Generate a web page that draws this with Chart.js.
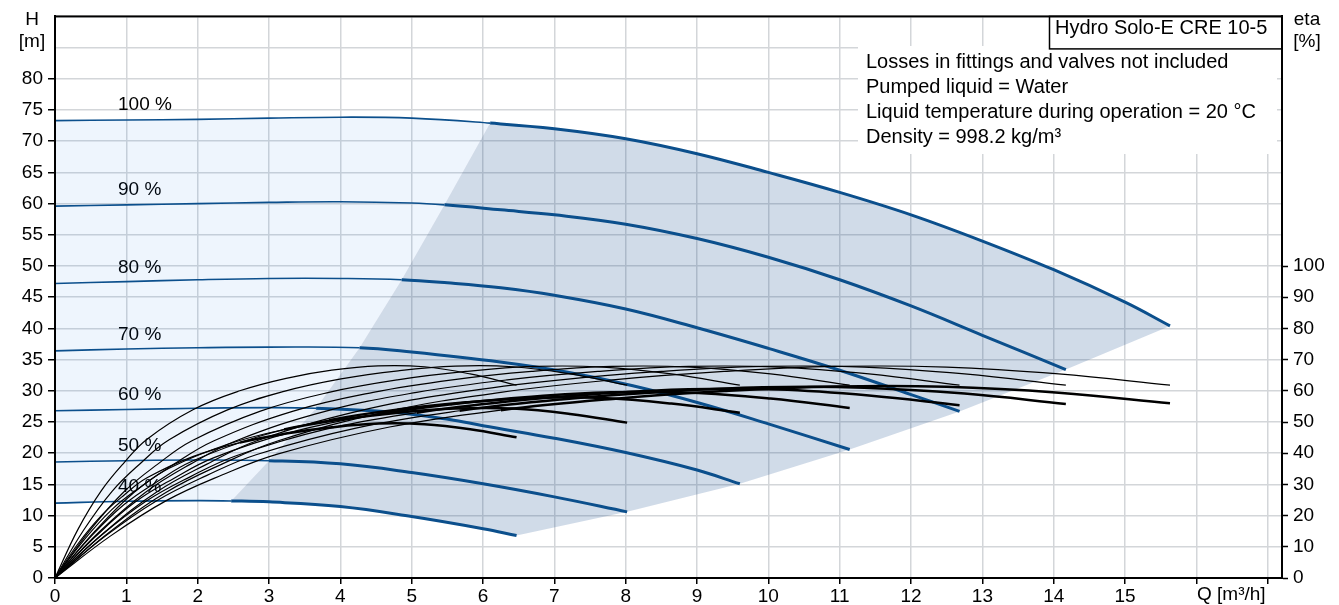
<!DOCTYPE html>
<html>
<head>
<meta charset="utf-8">
<title>Hydro Solo-E CRE 10-5</title>
<script src="https://cdn.jsdelivr.net/npm/chart.js@4.4.0/dist/chart.umd.min.js"></script>
<style>
  html, body { margin: 0; padding: 0; background: #fff; }
  #wrap { position: relative; width: 1339px; height: 605px; }
</style>
</head>
<body>
<div id="wrap"><canvas id="myChart"></canvas></div>
<script>
// speed curves, 40 % .. 100 %  (Q in m3/h, H in m)
const speedLabels = ['40 %', '50 %', '60 %', '70 %', '80 %', '90 %', '100 %']

const q40 = [0, 1, 2, 2.47, 3, 4, 5, 6, 6.47]
const h40 = [12.0, 12.3, 12.4, 12.35, 12.2, 11.45, 9.85, 7.9, 6.8]
const q50 = [0, 1, 2, 3, 4, 5, 6, 7, 8.02]
const h50 = [18.6, 18.8, 18.9, 18.8, 18.3, 16.9, 15.1, 13.0, 10.6]
const q60 = [0, 1, 2, 3, 3.66, 4.69, 5.53, 6, 7, 8, 9, 9.6]
const h60 = [26.8, 27.0, 27.2, 27.3, 27.2, 26.6, 25.4, 24.4, 22.4, 20.1, 17.3, 15.1]
const q70 = [0, 1, 2, 3, 4.27, 5, 6.24, 7.17, 8.1, 9.04, 10, 11.14]
const h70 = [36.4, 36.7, 36.9, 37.0, 36.9, 36.2, 34.6, 33.0, 30.8, 28.0, 24.7, 20.6]
const q80 = [0, 1, 2, 3, 4, 4.86, 5.5, 6.25, 7, 8, 9, 10, 11, 12, 12.68]
const h80 = [47.2, 47.5, 47.8, 48.0, 48.0, 47.8, 47.3, 46.5, 45.3, 43.1, 40.1, 36.8, 33.3, 29.4, 26.7]
const q90 = [0, 1, 2, 3, 4, 5, 5.46, 6.25, 7, 8, 9, 10, 11, 12, 13, 14.17]
const h90 = [59.6, 59.8, 60.0, 60.2, 60.3, 60.1, 59.8, 59.0, 58.2, 56.7, 54.4, 51.4, 47.8, 43.6, 38.9, 33.4]
const q100 = [0, 1, 2, 3, 4, 5, 6.1, 7, 8, 9, 10, 11, 12, 13, 14, 15, 15.63]
const h100 = [73.3, 73.4, 73.5, 73.7, 73.85, 73.7, 72.9, 72.0, 70.4, 68.0, 65.0, 61.8, 58.2, 54.0, 49.4, 44.2, 40.4]

// flow where each speed curve enters the operating range
const opStartQ = [2.47, 3, 3.66, 4.27, 4.86, 5.46, 6.1]

// efficiency curves (eta in %), upper (pump) and lower (total) set per speed
const eq40 = [0, 0.32, 0.65, 0.97, 1.29, 1.94, 2.59, 3.24, 3.88, 4.53, 5.18, 5.82, 6.47]
const eq50 = [0, 0.40, 0.80, 1.20, 1.60, 2.41, 3.21, 4.01, 4.81, 5.61, 6.42, 7.22, 8.02]
const eq60 = [0, 0.48, 0.96, 1.44, 1.92, 2.88, 3.84, 4.80, 5.76, 6.72, 7.68, 8.64, 9.6]
const eq70 = [0, 0.56, 1.11, 1.67, 2.23, 3.34, 4.46, 5.57, 6.68, 7.80, 8.91, 10.03, 11.14]
const eq80 = [0, 0.63, 1.27, 1.90, 2.54, 3.80, 5.07, 6.34, 7.61, 8.88, 10.14, 11.41, 12.68]
const eq90 = [0, 0.71, 1.42, 2.13, 2.83, 4.25, 5.67, 7.09, 8.50, 9.92, 11.34, 12.75, 14.17]
const eq100 = [0, 0.78, 1.56, 2.34, 3.13, 4.69, 6.25, 7.82, 9.38, 10.94, 12.50, 14.07, 15.63]

const etaP40 = [0, 15.5, 28, 37, 44.5, 54, 60, 64, 66.6, 68, 67.7, 65.4, 61.8]
const etaP50 = [0, 15.3, 27.8, 36.8, 44.3, 53.8, 59.8, 63.8, 66.4, 67.9, 67.7, 65.4, 61.8]
const etaP60 = [0, 15, 27.5, 36.5, 44, 53.5, 59.5, 63.5, 66.2, 67.8, 67.6, 65.4, 61.8]
const etaP70 = [0, 15, 27.5, 36.5, 44, 53.5, 59.5, 63.5, 66.2, 67.8, 67.6, 65.4, 61.8]
const etaP80 = [0, 15, 27.5, 36.5, 44, 53.5, 59.5, 63.5, 66.2, 67.8, 67.6, 65.4, 61.8]
const etaP90 = [0, 15, 27.5, 36.5, 44, 53.5, 59.5, 63.5, 66.2, 67.8, 67.6, 65.4, 61.8]
const etaP100 = [0, 15, 27.5, 36.5, 44, 53.5, 59.5, 63.5, 66.2, 67.8, 67.6, 65.4, 61.8]

const etaT40 = [0, 10.9, 20.0, 26.6, 32.1, 39.0, 43.4, 46.3, 48.3, 49.5, 49.3, 47.7, 45.1]
const etaT50 = [0, 12.0, 22.0, 29.2, 35.2, 42.8, 47.6, 50.8, 53.0, 54.3, 54.3, 52.6, 49.8]
const etaT60 = [0, 12.7, 23.4, 31.0, 37.4, 45.5, 50.6, 54.0, 56.3, 57.7, 57.7, 55.9, 53.0]
const etaT70 = [0, 13.1, 24.1, 32.0, 38.6, 46.9, 52.2, 55.7, 58.1, 59.5, 59.4, 57.5, 54.5]
const etaT80 = [0, 13.3, 24.5, 32.5, 39.2, 47.7, 53.0, 56.6, 59.0, 60.5, 60.4, 58.5, 55.4]
const etaT90 = [0, 13.5, 24.7, 32.9, 39.6, 48.2, 53.6, 57.2, 59.6, 61.1, 61.0, 59.1, 55.8]
const etaT100 = [0, 13.5, 24.8, 33.0, 39.8, 48.4, 53.8, 57.4, 59.9, 61.4, 61.3, 59.4, 56.0]

const infoTitle = 'Hydro Solo-E CRE 10-5'
const infoLines = [
  'Losses in fittings and valves not included',
  'Pumped liquid = Water',
  'Liquid temperature during operation = 20 °C',
  'Density = 998.2 kg/m³'
]

const headCurves = [[q40, h40], [q50, h50], [q60, h60], [q70, h70], [q80, h80], [q90, h90], [q100, h100]]
const etaCurves = [
  [eq40, etaP40, etaT40], [eq50, etaP50, etaT50], [eq60, etaP60, etaT60], [eq70, etaP70, etaT70],
  [eq80, etaP80, etaT80], [eq90, etaP90, etaT90], [eq100, etaP100, etaT100]
]

const FONT_FAMILY = '"Liberation Sans", Arial, sans-serif'
const blue = '#0b4f8c'
const gridColor = '#d3d6d9'

Chart.defaults.font.family = FONT_FAMILY
Chart.defaults.font.size = 19
Chart.defaults.color = '#000'

const pts = (qs, vs) => qs.map((q, k) => ({ x: q, y: vs[k] }))
const headAt = (c, q) => ({ x: q, y: c[1][c[0].indexOf(q)] })

// light area: left of the operating range, between 40 % and 100 %
const lightArea = []
q100.forEach((q, k) => { if (q <= opStartQ[6]) lightArea.push({ x: q, y: h100[k] }) })
for (let i = 5; i >= 0; i--) lightArea.push(headAt(headCurves[i], opStartQ[i]))
for (let k = q40.length - 1; k >= 0; k--) { if (q40[k] < opStartQ[0]) lightArea.push({ x: q40[k], y: h40[k] }) }

// operating range
const opArea = []
q100.forEach((q, k) => { if (q >= opStartQ[6]) opArea.push({ x: q, y: h100[k] }) })
for (let i = 5; i >= 1; i--) {
  const c = headCurves[i]
  opArea.push({ x: c[0][c[0].length - 1], y: c[1][c[1].length - 1] })
}
for (let k = q40.length - 1; k >= 0; k--) { if (q40[k] >= opStartQ[0]) opArea.push({ x: q40[k], y: h40[k] }) }
for (let i = 1; i <= 5; i++) opArea.push(headAt(headCurves[i], opStartQ[i]))

const datasets = []
datasets.push({
  data: lightArea, yAxisID: 'y', showLine: true, tension: 0, borderWidth: 0,
  pointRadius: 0, fill: 'shape', backgroundColor: 'rgba(0,110,230,0.067)', order: 10
})
datasets.push({
  data: opArea, yAxisID: 'y', showLine: true, tension: 0, borderWidth: 0,
  pointRadius: 0, fill: 'shape', backgroundColor: 'rgba(0,60,130,0.184)', order: 9
})

headCurves.forEach((c, i) => {
  datasets.push({
    data: pts(c[0], c[1]), yAxisID: 'y', showLine: true, fill: false,
    borderColor: blue, borderWidth: 1.6, pointRadius: 0, tension: 0.4, order: 2,
    segment: { borderWidth: s => c[0][s.p0DataIndex] >= opStartQ[i] - 1e-6 ? 3 : 1.6 }
  })
})

etaCurves.forEach((c, i) => {
  datasets.push({
    data: pts(c[0], c[1]), yAxisID: 'y2', showLine: true, fill: false,
    borderColor: '#000', borderWidth: 1.2, pointRadius: 0, tension: 0.4, order: 1
  })
  datasets.push({
    data: pts(c[0], c[2]), yAxisID: 'y2', showLine: true, fill: false,
    borderColor: '#000', borderWidth: 1.2, pointRadius: 0, tension: 0.4, order: 1,
    segment: { borderWidth: s => c[0][s.p0DataIndex] >= opStartQ[i] - 1e-6 ? 2.5 : 1.2 }
  })
})

// labels, frame and info box
const decor = {
  id: 'decor',
  beforeDatasetsDraw(chart) {
    const { ctx, scales: { x, y } } = chart
    ctx.save()
    ctx.font = '19px ' + FONT_FAMILY
    ctx.fillStyle = '#000'
    ctx.textBaseline = 'middle'
    ctx.textAlign = 'left'
    headCurves.forEach((c, i) => {
      ctx.fillText(speedLabels[i], x.getPixelForValue(0) + 63, y.getPixelForValue(c[1][0]) - 16)
    })
    ctx.restore()
  },
  afterDraw(chart) {
    const { ctx, chartArea: a } = chart
    ctx.save()
    // info box
    ctx.fillStyle = '#fff'
    ctx.fillRect(858, 46, 419, 108)
    ctx.fillRect(1049.5, a.top, a.right - 1049.5, 32.5)
    ctx.strokeStyle = '#000'
    ctx.lineWidth = 1.5
    ctx.strokeRect(1049.5, a.top, a.right - 1049.5, 32.5)
    // frame
    ctx.lineWidth = 2
    ctx.strokeRect(a.left, a.top, a.right - a.left, a.bottom - a.top)

    ctx.fillStyle = '#000'
    ctx.font = '20px ' + FONT_FAMILY
    ctx.textBaseline = 'alphabetic'
    ctx.textAlign = 'left'
    ctx.fillText(infoTitle, 1055, 33.5)
    infoLines.forEach((t, i) => ctx.fillText(t, 866, 67.5 + i * 25.3))

    // axis titles
    ctx.font = '19px ' + FONT_FAMILY
    ctx.textAlign = 'center'
    ctx.textBaseline = 'middle'
    ctx.fillText('H', 32, 20)
    ctx.fillText('[m]', 32, 42)
    ctx.fillText('eta', 1307, 20)
    ctx.fillText('[%]', 1307, 42)
    ctx.textAlign = 'left'
    ctx.fillText('Q [m³/h]', 1197, 595)
    ctx.restore()
  }
}

const myChart = new Chart(document.getElementById('myChart'), {
  type: 'scatter',
  data: { datasets: datasets },
  plugins: [decor],
  options: {
    responsive: true,
    maintainAspectRatio: false,
    animation: false,
    events: [],
    layout: { padding: { top: 12, left: 0, right: 0, bottom: 0 } },
    plugins: { legend: { display: false }, tooltip: { enabled: false } },
    scales: {
      x: {
        type: 'linear', min: 0, max: 17.2,
        afterFit: s => { s.height = 27 },
        ticks: { stepSize: 1, includeBounds: false, padding: 1, maxRotation: 0,
          callback: v => v <= 15 ? v : '' },
        grid: { color: gridColor, lineWidth: 1.5, tickLength: 6, tickColor: '#000', tickWidth: 1.5 },
        border: { color: '#000', width: 2 }
      },
      y: {
        type: 'linear', position: 'left', min: 0, max: 90,
        afterFit: s => { s.width = 55 },
        ticks: { stepSize: 5, padding: 5, callback: v => v <= 80 ? v : '' },
        grid: { color: gridColor, lineWidth: 1.5, tickLength: 7, tickWidth: 1.5,
          tickColor: c => c.tick && c.tick.value > 80 ? 'rgba(0,0,0,0)' : '#000' },
        border: { color: '#000', width: 2 }
      },
      y2: {
        type: 'linear', position: 'right', min: 0, max: 180,
        afterFit: s => { s.width = 57 },
        ticks: { stepSize: 10, padding: 5, callback: v => v <= 100 ? v : '' },
        grid: { drawOnChartArea: false, tickLength: 6, tickWidth: 1.5,
          tickColor: c => c.tick && c.tick.value > 100 ? 'rgba(0,0,0,0)' : '#000' },
        border: { color: '#000', width: 2 }
      }
    }
  }
})
</script>
</body>
</html>
